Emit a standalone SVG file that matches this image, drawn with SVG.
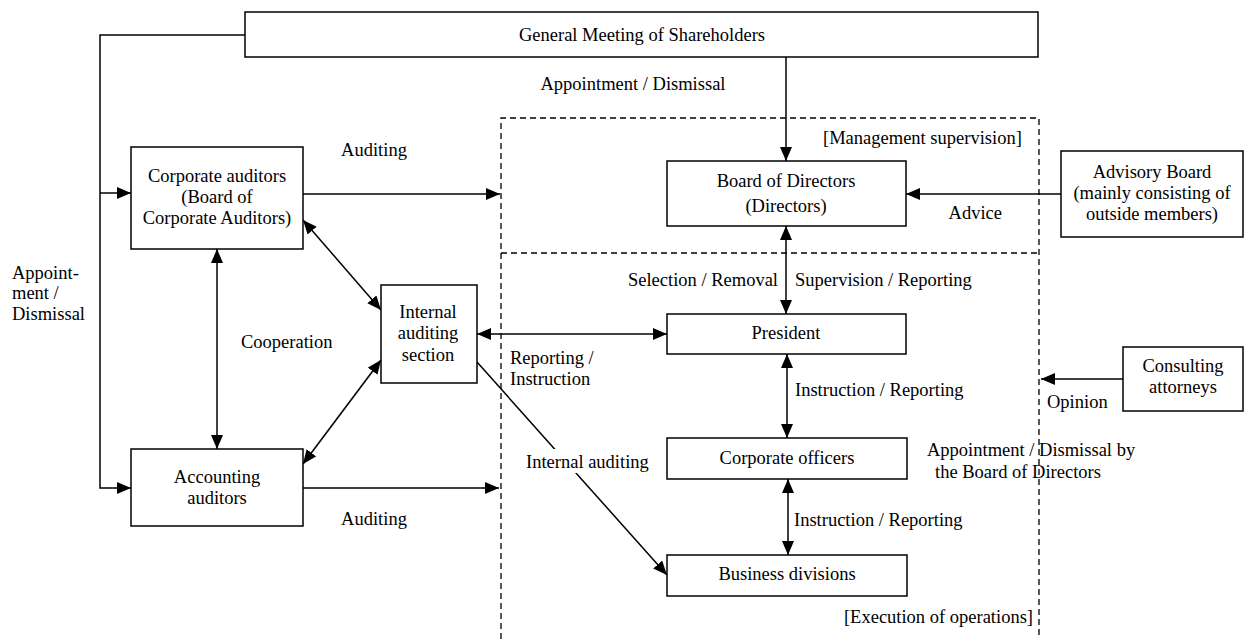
<svg xmlns="http://www.w3.org/2000/svg" width="1245" height="639" viewBox="0 0 1245 639">
<style>
text{font-family:'Liberation Serif','Times New Roman',Times,'DejaVu Serif',serif;font-size:18.5px;fill:#000}
.c{text-anchor:middle}
.e{text-anchor:end}
.box{fill:#fff;stroke:#000;stroke-width:1.5}
.ln{fill:none;stroke:#000;stroke-width:1.5}
.dash{fill:none;stroke:#000;stroke-width:1.3;stroke-dasharray:6,4}
</style>
<defs>
<marker id="ah" viewBox="0 0 14 12" refX="14" refY="6" markerWidth="14" markerHeight="12" markerUnits="userSpaceOnUse" orient="auto-start-reverse">
<path d="M0,0 L14,6 L0,12 Z" fill="#000"/>
</marker>
</defs>
<rect width="1245" height="639" fill="#fff"/>
<g id="regions" font-family="Liberation Serif, Times New Roman, serif">
<path class="dash" d="M501,639 L501,118 L1039,118 L1039,639"/>
<path class="dash" d="M501,253 L1039,253"/>
<text x="823" y="144">[Management supervision]</text>
<text class="e" x="1033" y="623">[Execution of operations]</text>
</g>
<g id="connectors">
<path class="ln" d="M245,35 L100,35 L100,488 L131,488" marker-end="url(#ah)"/>
<path class="ln" d="M100,193 L131,193" marker-end="url(#ah)"/>
<path class="ln" d="M786,57 L786,161" marker-end="url(#ah)"/>
<path class="ln" d="M303,194 L500,194" marker-end="url(#ah)"/>
<path class="ln" d="M303,488 L499,488" marker-end="url(#ah)"/>
<path class="ln" d="M1061,194 L906,194" marker-end="url(#ah)"/>
<path class="ln" d="M786,226 L786,314" marker-start="url(#ah)" marker-end="url(#ah)"/>
<path class="ln" d="M217,249 L217,449" marker-start="url(#ah)" marker-end="url(#ah)"/>
<path class="ln" d="M303,220 L381,310" marker-start="url(#ah)" marker-end="url(#ah)"/>
<path class="ln" d="M303,464 L381,360" marker-start="url(#ah)" marker-end="url(#ah)"/>
<path class="ln" d="M477,334 L667,334" marker-start="url(#ah)" marker-end="url(#ah)"/>
<path class="ln" d="M787,354 L787,438" marker-start="url(#ah)" marker-end="url(#ah)"/>
<path class="ln" d="M788,479 L788,555" marker-start="url(#ah)" marker-end="url(#ah)"/>
<path class="ln" d="M477,362 L667,575" marker-end="url(#ah)"/>
<path class="ln" d="M1123,379 L1041,379" marker-end="url(#ah)"/>
<rect x="524" y="449" width="126" height="24" fill="#fff"/>
<text x="526" y="468">Internal auditing</text>
<text x="633" y="90" class="c">Appointment / Dismissal</text>
<text x="374" y="156" class="c">Auditing</text>
<text x="374" y="525" class="c">Auditing</text>
<text class="e" x="1002" y="219">Advice</text>
<text x="12" y="279">Appoint-</text>
<text x="12" y="299">ment /</text>
<text x="12" y="320">Dismissal</text>
<text x="241" y="348">Cooperation</text>
<text class="e" x="778" y="286">Selection / Removal</text>
<text x="795" y="286">Supervision / Reporting</text>
<text x="510" y="364">Reporting /</text>
<text x="510" y="385">Instruction</text>
<text x="795" y="396">Instruction / Reporting</text>
<text x="794" y="526">Instruction / Reporting</text>
<text x="1047" y="408">Opinion</text>
<text x="927" y="456">Appointment / Dismissal by</text>
<text x="935" y="478">the Board of Directors</text>
</g>
<g id="general-meeting">
<rect class="box" x="245" y="12" width="793" height="45"/>
<text class="c" x="642" y="41">General Meeting of Shareholders</text>
</g>
<g id="board">
<rect class="box" x="667" y="161" width="239" height="65"/>
<text class="c" x="786" y="187">Board of Directors</text>
<text class="c" x="786" y="212">(Directors)</text>
</g>
<g id="advisory">
<rect class="box" x="1061" y="151" width="182" height="86"/>
<text class="c" x="1152" y="178">Advisory Board</text>
<text class="c" x="1152" y="199">(mainly consisting of</text>
<text class="c" x="1152" y="220">outside members)</text>
</g>
<g id="corporate-auditors">
<rect class="box" x="131" y="147" width="172" height="102"/>
<text class="c" x="217" y="182">Corporate auditors</text>
<text class="c" x="217" y="203">(Board of</text>
<text class="c" x="217" y="224">Corporate Auditors)</text>
</g>
<g id="internal-auditing">
<rect class="box" x="381" y="285" width="96" height="98"/>
<text class="c" x="428" y="318">Internal</text>
<text class="c" x="428" y="339">auditing</text>
<text class="c" x="428" y="361">section</text>
</g>
<g id="accounting-auditors">
<rect class="box" x="131" y="449" width="172" height="77"/>
<text class="c" x="217" y="483">Accounting</text>
<text class="c" x="217" y="504">auditors</text>
</g>
<g id="president">
<rect class="box" x="667" y="314" width="239" height="40"/>
<text class="c" x="786" y="339">President</text>
</g>
<g id="corporate-officers">
<rect class="box" x="667" y="438" width="240" height="41"/>
<text class="c" x="787" y="464">Corporate officers</text>
</g>
<g id="business-divisions">
<rect class="box" x="667" y="555" width="240" height="41"/>
<text class="c" x="787" y="580">Business divisions</text>
</g>
<g id="consulting">
<rect class="box" x="1123" y="347" width="120" height="64"/>
<text class="c" x="1183" y="372">Consulting</text>
<text class="c" x="1183" y="393">attorneys</text>
</g>
</svg>
